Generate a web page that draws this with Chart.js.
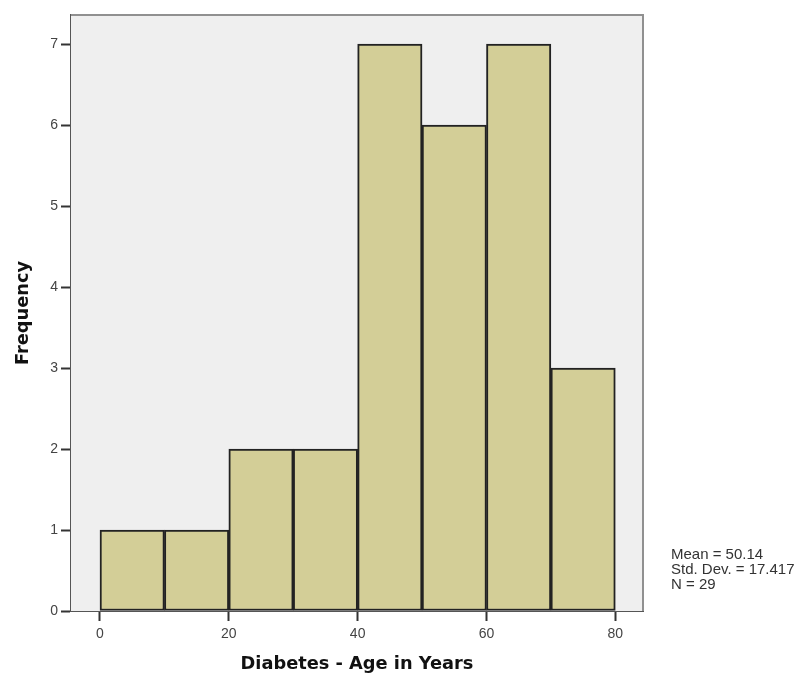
<!DOCTYPE html>
<html>
<head>
<meta charset="utf-8">
<script src="https://cdn.jsdelivr.net/npm/chart.js@4/dist/chart.umd.min.js"></script>
<style>
html,body{margin:0;padding:0;background:#fff;}
#wrap{width:798px;height:675px;position:relative;}
</style>
</head>
<body>
<div id="wrap"><canvas id="c" width="798" height="675"></canvas></div>
<script>
const binStarts = [0, 10, 20, 30, 40, 50, 60, 70];
const binWidth = 10;
const frequencies = [1, 1, 2, 2, 7, 6, 7, 3];
const xTickValues = [0, 20, 40, 60, 80];
const yTickValues = [0, 1, 2, 3, 4, 5, 6, 7];
const statsLines = ["Mean = 50.14", "Std. Dev. = 17.417", "N = 29"];
const xTitle = "Diabetes - Age in Years";
const yTitle = "Frequency";

const points = binStarts.map((s, i) => ({x: s + binWidth / 2, y: frequencies[i]}));
const tickFont = {family: '"Liberation Sans", Arial, sans-serif', size: 14};
const titleFont = {family: '"DejaVu Sans", Verdana, sans-serif', size: 17.8, weight: 'bold'};

const plotDecor = {
  id: 'plotDecor',
  beforeDatasetsDraw(chart) {
    const {ctx, chartArea: a} = chart;
    ctx.save();
    ctx.fillStyle = '#efefef';
    ctx.fillRect(a.left, a.top, a.right - a.left, a.bottom - a.top);
    ctx.restore();
  },
  afterDraw(chart) {
    const {ctx, chartArea: a} = chart;
    ctx.save();
    ctx.strokeStyle = '#909090';
    ctx.lineWidth = 2;
    ctx.beginPath();
    ctx.moveTo(a.left, a.top);
    ctx.lineTo(a.right, a.top);
    ctx.lineTo(a.right, a.bottom);
    ctx.stroke();
    ctx.fillStyle = '#333';
    ctx.font = '15px "Liberation Sans", Arial, sans-serif';
    ctx.textBaseline = 'middle';
    statsLines.forEach((t, i) => ctx.fillText(t, 671, 555 + i * 15));
    ctx.restore();
  }
};

new Chart(document.getElementById('c'), {
  type: 'bar',
  data: {
    datasets: [{
      data: points,
      backgroundColor: '#d3ce97',
      borderColor: '#222222',
      borderWidth: 2,
      borderSkipped: false,
      barPercentage: 1,
      categoryPercentage: 1
    }]
  },
  options: {
    responsive: false,
    animation: false,
    layout: {padding: {left: 0, right: 155, top: 15, bottom: 0}},
    plugins: {legend: {display: false}, tooltip: {enabled: false}},
    scales: {
      x: {
        type: 'linear',
        offset: false,
        min: -4.5,
        max: 84.3,
        afterBuildTicks(scale) { scale.ticks = xTickValues.map(v => ({value: v})); },
        afterFit(scale) { scale.height = 64; },
        grid: {offset: false, drawOnChartArea: false, tickLength: 10, tickColor: '#333', tickWidth: 2},
        border: {color: '#555', width: 2},
        ticks: {color: '#444', font: tickFont, padding: 5, maxRotation: 0},
        title: {display: true, text: xTitle, color: '#111', font: titleFont, padding: {top: 6, bottom: 0}}
      },
      y: {
        min: 0,
        max: 7.36,
        afterBuildTicks(scale) { scale.ticks = yTickValues.map(v => ({value: v})); },
        afterFit(scale) { scale.width = 71; },
        grid: {drawOnChartArea: false, tickLength: 10, tickColor: '#333', tickWidth: 2},
        border: {color: '#555', width: 2},
        ticks: {color: '#444', font: tickFont, padding: 3},
        title: {display: true, text: yTitle, color: '#111', font: titleFont, padding: {top: 13, bottom: 0}}
      }
    }
  },
  plugins: [plotDecor]
});
</script>
</body>
</html>
